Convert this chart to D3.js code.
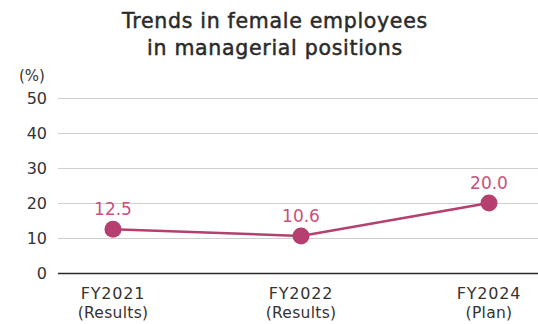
<!DOCTYPE html>
<html>
<head>
<meta charset="utf-8">
<script src="https://cdn.jsdelivr.net/npm/d3@7"></script>
<style>
  html, body { margin: 0; padding: 0; background: #fff; }
  svg { display: block; font-family: "DejaVu Sans", sans-serif; }
</style>
</head>
<body>
<svg id="chart" width="538" height="324"></svg>
<script>
const categories = ["FY2021", "FY2022", "FY2024"];
const subLabels = ["(Results)", "(Results)", "(Plan)"];
const values = [12.5, 10.6, 20.0];
const yTicks = [0, 10, 20, 30, 40, 50];
const titleLines = ["Trends in female employees", "in managerial positions"];

const svg = d3.select("#chart");
const plotLeft = 58, plotRight = 538, plotTop = 98, plotBottom = 273;

const x = d3.scalePoint().domain(categories).range([113, 489]);
const y = d3.scaleLinear().domain([0, 50]).range([plotBottom, plotTop]);

// Title
svg.append("g").selectAll("text").data(titleLines).join("text")
  .attr("x", 275).attr("y", (d, i) => 28 + i * 27)
  .attr("text-anchor", "middle")
  .attr("font-size", 20.5).attr("letter-spacing", 0.7)
  .attr("fill", "#2b2b2b").attr("stroke", "#2b2b2b").attr("stroke-width", 0.5)
  .text(d => d);

// Unit label
svg.append("text").attr("x", 32).attr("y", 81)
  .attr("text-anchor", "middle").attr("font-size", 15).attr("fill", "#333")
  .text("(%)");

// Horizontal grid lines and y tick labels
const yAxis = svg.append("g").attr("transform", `translate(${plotLeft},0)`)
  .call(d3.axisLeft(y).tickValues(yTicks).tickSize(-(plotRight - plotLeft)).tickPadding(11).tickFormat(d3.format("d")));
yAxis.select(".domain").remove();
yAxis.selectAll(".tick line").attr("stroke", "#cfcfcf").attr("stroke-width", 1.2);
yAxis.selectAll(".tick text").attr("font-size", 16).attr("fill", "#333")
  .attr("font-family", "\"DejaVu Sans\", sans-serif");
yAxis.selectAll(".tick").filter(d => d === 0).select("line")
  .attr("stroke", "#2a2a2a").attr("stroke-width", 1.5);

// X category labels
const xl = svg.append("g").selectAll("g").data(categories).join("g")
  .attr("transform", d => `translate(${x(d)},0)`);
xl.append("text").attr("y", 299).attr("text-anchor", "middle")
  .attr("font-size", 16).attr("letter-spacing", 0.8).attr("fill", "#333").text(d => d);
xl.append("text").attr("y", 318).attr("text-anchor", "middle")
  .attr("font-size", 15.5).attr("letter-spacing", 0.3).attr("fill", "#333").text((d, i) => subLabels[i]);

// Line
const data = categories.map((c, i) => ({ c, v: values[i] }));
svg.append("path").datum(data)
  .attr("fill", "none").attr("stroke", "#b53f6f").attr("stroke-width", 2.5)
  .attr("d", d3.line().x(d => x(d.c)).y(d => y(d.v)));

// Points
svg.append("g").selectAll("circle").data(data).join("circle")
  .attr("cx", d => x(d.c)).attr("cy", d => y(d.v)).attr("r", 8.5)
  .attr("fill", "#b53f6f");

// Value labels
svg.append("g").selectAll("text").data(data).join("text")
  .attr("x", d => x(d.c)).attr("y", d => y(d.v) - 14)
  .attr("text-anchor", "middle").attr("font-size", 17).attr("fill", "#c9517f")
  .text(d => d3.format(".1f")(d.v));
</script>
</body>
</html>
